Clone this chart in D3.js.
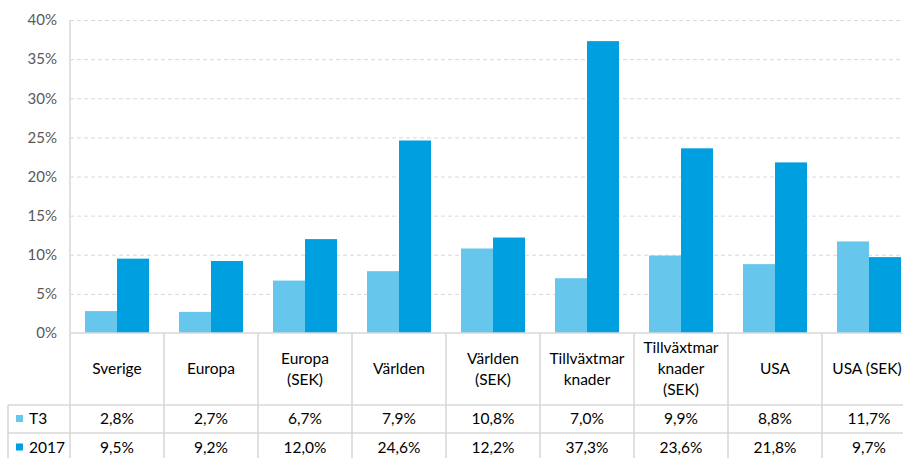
<!DOCTYPE html>
<html>
<head>
<meta charset="utf-8">
<script src="https://cdn.jsdelivr.net/npm/d3@7"></script>
<style>
  html, body { margin: 0; padding: 0; background: #fff; }
  svg { display: block; font-family: Lato, "Open Sans", sans-serif; }
  .tick-label { fill: #595959; font-size: 15px; }
  .cell { fill: #000; font-size: 15.5px; }
  .grid line { stroke: #d9d9d9; stroke-dasharray: 4 3; }
  .grid path { display: none; }
  .border { stroke: #d9d9d9; stroke-width: 1.6; }
</style>
</head>
<body>
<svg id="chart" width="903" height="458"></svg>
<script>
const categories = [
  ['Sverige'],
  ['Europa'],
  ['Europa', '(SEK)'],
  ['Världen'],
  ['Världen', '(SEK)'],
  ['Tillväxtmar', 'knader'],
  ['Tillväxtmar', 'knader', '(SEK)'],
  ['USA'],
  ['USA (SEK)']
]
const seriesNames = ['T3', '2017']
const t3Values = [2.8, 2.7, 6.7, 7.9, 10.8, 7.0, 9.9, 8.8, 11.7]
const y2017Values = [9.5, 9.2, 12.0, 24.6, 12.2, 37.3, 23.6, 21.8, 9.7]
const yTicks = [0, 5, 10, 15, 20, 25, 30, 35, 40]
const colors = ['#66c6ec', '#009fe0']

const svg = d3.select('#chart')
const plot = { left: 70, right: 916, top: 20, bottom: 333 }
const tableLeft = 8
const rows = { header: [333, 405], t3: [405, 433], y2017: [433, 462] }

const keys = categories.map((c, i) => i)
const x = d3.scaleBand().domain(keys).range([plot.left, plot.right]).padding(0)
const x1 = d3.scaleBand().domain(seriesNames).range([15, x.bandwidth() - 15]).padding(0)
const y = d3.scaleLinear().domain([0, 40]).range([plot.bottom, plot.top])

// grid
svg.append('g')
  .attr('class', 'grid')
  .attr('transform', `translate(${plot.left},0)`)
  .call(d3.axisLeft(y).tickValues(yTicks.slice(1)).tickSize(-(plot.right - plot.left)).tickFormat(''))

// y tick labels
svg.append('g')
  .selectAll('text')
  .data(yTicks)
  .join('text')
  .attr('class', 'tick-label')
  .attr('x', plot.left - 13)
  .attr('y', (d) => y(d))
  .attr('dy', '0.35em')
  .attr('text-anchor', 'end')
  .text((d) => d + '%')

// bars
const seriesData = [t3Values, y2017Values]
const groups = svg.append('g')
  .selectAll('g')
  .data(keys)
  .join('g')
  .attr('transform', (d) => `translate(${x(d)},0)`)
groups.selectAll('rect')
  .data((i) => seriesNames.map((s, k) => ({ s, k, v: seriesData[k][i] })))
  .join('rect')
  .attr('x', (d) => x1(d.s))
  .attr('y', (d) => y(d.v))
  .attr('width', x1.bandwidth())
  .attr('height', (d) => y(0) - y(d.v))
  .attr('fill', (d) => colors[d.k])

// table borders
const b = svg.append('g').attr('class', 'border')
b.append('line').attr('x1', plot.left).attr('x2', plot.right).attr('y1', rows.header[0]).attr('y2', rows.header[0])
b.append('line').attr('x1', tableLeft).attr('x2', plot.right).attr('y1', rows.t3[0]).attr('y2', rows.t3[0])
b.append('line').attr('x1', tableLeft).attr('x2', plot.right).attr('y1', rows.y2017[0]).attr('y2', rows.y2017[0])
b.append('line').attr('x1', plot.left).attr('x2', plot.left).attr('y1', plot.top).attr('y2', 460)
b.append('line').attr('x1', tableLeft).attr('x2', tableLeft).attr('y1', rows.t3[0]).attr('y2', 460)
keys.slice(1).concat([keys.length]).forEach((i) => {
  const xx = plot.left + i * x.bandwidth()
  b.append('line').attr('x1', xx).attr('x2', xx).attr('y1', rows.header[0]).attr('y2', 460)
})

// header labels
const hdr = svg.append('g')
keys.forEach((i) => {
  const lines = categories[i]
  const cy = (rows.header[0] + rows.header[1]) / 2
  const lh = 21
  lines.forEach((t, j) => {
    hdr.append('text')
      .attr('class', 'cell')
      .attr('x', x(i) + x.bandwidth() / 2 - (i === keys.length - 1 ? 2 : 0))
      .attr('y', cy + (j - (lines.length - 1) / 2) * lh)
      .attr('dy', '0.35em')
      .attr('text-anchor', 'middle')
      .text(t)
  })
})

// value rows
const fmt = (v) => v.toFixed(1).replace('.', ',') + '%'
const rowDefs = [
  { name: seriesNames[0], vals: t3Values, band: rows.t3, color: colors[0] },
  { name: seriesNames[1], vals: y2017Values, band: rows.y2017, color: colors[1] }
]
rowDefs.forEach((r) => {
  const cy = (r.band[0] + r.band[1]) / 2
  svg.append('rect').attr('x', 16).attr('y', cy - 4).attr('width', 7).attr('height', 7).attr('fill', r.color)
  svg.append('text').attr('class', 'cell').attr('x', 29).attr('y', cy).attr('dy', '0.35em').text(r.name)
  svg.append('g')
    .selectAll('text')
    .data(r.vals)
    .join('text')
    .attr('class', 'cell')
    .attr('x', (d, i) => x(i) + x.bandwidth() / 2)
    .attr('y', cy)
    .attr('dy', '0.35em')
    .attr('text-anchor', 'middle')
    .text(fmt)
})
</script>
</body>
</html>
